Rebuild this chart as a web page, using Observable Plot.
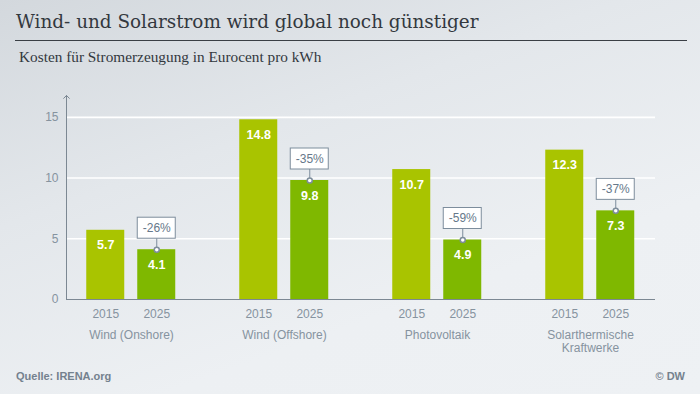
<!DOCTYPE html>
<html>
<head>
<meta charset="utf-8">
<script src="https://cdn.jsdelivr.net/npm/d3@7"></script>
<script src="https://cdn.jsdelivr.net/npm/@observablehq/plot@0.6"></script>
<style>
  html, body { margin: 0; padding: 0; }
  body {
    width: 700px; height: 394px; overflow: hidden; position: relative;
    background: linear-gradient(160deg, #d3d8dd 0%, #e3e7eb 35%, #edf0f3 70%, #eef1f4 100%);
    font-family: "Liberation Sans", Arial, sans-serif;
  }
  #title {
    position: absolute; left: 16px; top: 13.3px;
    font-family: "DejaVu Serif", serif; font-size: 18.4px; line-height: 18.4px;
    color: #33383e; white-space: nowrap;
  }
  #rule { position: absolute; left: 15px; top: 40px; width: 672px; height: 1px; background: #3a3f45; }
  #subtitle {
    position: absolute; left: 19px; top: 48.9px;
    font-family: "Liberation Serif", serif; font-size: 15.3px; line-height: 15.3px;
    color: #33383e; white-space: nowrap;
  }
  #chart { position: absolute; left: 0; top: 70px; width: 700px; height: 290px; }
  #chart svg { position: absolute; left: 0; top: 0; }
  #source {
    position: absolute; left: 16px; top: 371px; font-size: 11px; line-height: 11px;
    font-weight: bold; color: #74818e;
  }
  #credit {
    position: absolute; right: 15px; top: 371px; font-size: 11px; line-height: 11px;
    font-weight: bold; color: #74818e;
  }
</style>
</head>
<body>
<div id="title">Wind- und Solarstrom wird global noch günstiger</div>
<div id="rule"></div>
<div id="subtitle">Kosten für Stromerzeugung in Eurocent pro kWh</div>
<div id="chart"></div>
<div id="source">Quelle: IRENA.org</div>
<div id="credit">© DW</div>
<script>
// ---- data ----
const categories = ["Wind (Onshore)", "Wind (Offshore)", "Photovoltaik", "Solarthermische\nKraftwerke"];
const years = ["2015", "2025"];
const cost2015 = [5.7, 14.8, 10.7, 12.3];
const cost2025 = [4.1, 9.8, 4.9, 7.3];
const changeLabels = ["-26%", "-35%", "-59%", "-37%"];
const yTicks = [0, 5, 10, 15];
const yAxisTop = 16.8;

// ---- styles ----
const fontFamily = "'Liberation Sans', Arial, sans-serif";
const color2015 = "#a9c400";
const color2025 = "#7fb800";
const labelColor = "#86939f";
const axisColor = "#7c8893";
const boxStroke = "#7d8d9c";
const boxText = "#66788a";

const rows = [];
categories.forEach((c, i) => {
  rows.push({category: c, year: years[0], value: cost2015[i]});
  rows.push({category: c, year: years[1], value: cost2025[i]});
});
const changes = categories.map((c, i) => ({category: c, year: years[1], value: cost2025[i], label: changeLabels[i]}));

const W = 700, H = 290, MT = 25, MB = 61;

// background layer: grid, axes
const back = Plot.plot({
  width: W, height: H, marginLeft: 66, marginRight: 45, marginTop: MT, marginBottom: MB,
  style: {background: "transparent", fontFamily, overflow: "visible"},
  x: {domain: [0, 1], axis: null},
  y: {domain: [0, yAxisTop], axis: null},
  marks: [
    Plot.ruleY(yTicks.filter(t => t > 0), {stroke: "white", strokeWidth: 1.6}),
    Plot.ruleY([0], {stroke: axisColor, strokeWidth: 1.2}),
    Plot.arrow([0], {x1: 0, x2: 0, y1: 0, y2: yAxisTop, stroke: axisColor, strokeWidth: 1, headAngle: 90, headLength: 6}),
    Plot.axisY({ticks: yTicks, tickSize: 0, tickPadding: 8, fontSize: 12, color: labelColor, label: null})
  ]
});

// foreground layer: bars and labels
const front = Plot.plot({
  width: W, height: H, marginLeft: 71.75, marginRight: 51.25, marginTop: MT, marginBottom: MB,
  style: {background: "transparent", fontFamily, overflow: "visible"},
  fx: {domain: categories, padding: 0.241, label: null},
  x: {domain: years, padding: 0.262, label: null},
  y: {domain: [0, yAxisTop], axis: null},
  color: {domain: years, range: [color2015, color2025]},
  marks: [
    Plot.barY(rows, {fx: "category", x: "year", y: "value", fill: "year"}),
    Plot.text(rows, {fx: "category", x: "year", y: "value", text: d => d.value.toFixed(1), dy: 15,
      fill: "white", fontWeight: "bold", fontSize: 12.5}),
    Plot.ruleX(changes, {fx: "category", x: "year", y1: "value", y2: "value", insetTop: -11, stroke: boxStroke}),
    Plot.barY(changes, {fx: "category", x: "year", y1: "value", y2: "value", insetTop: -32, insetBottom: 11,
      fill: "white", stroke: boxStroke, strokeWidth: 1}),
    Plot.dot(changes, {fx: "category", x: "year", y: "value", r: 2.5, fill: "white", stroke: boxStroke}),
    Plot.text(changes, {fx: "category", x: "year", y: "value", text: "label", dy: -21.5, fill: boxText, fontSize: 12}),
    Plot.axisX({tickSize: 0, tickPadding: 10, fontSize: 12, color: labelColor, label: null}),
    Plot.axisFx({anchor: "bottom", tickSize: 0, tickPadding: 30, fontSize: 12, color: labelColor, label: null, lineHeight: 1.1})
  ]
});

const chart = document.getElementById("chart");
chart.appendChild(back);
chart.appendChild(front);
</script>
</body>
</html>
